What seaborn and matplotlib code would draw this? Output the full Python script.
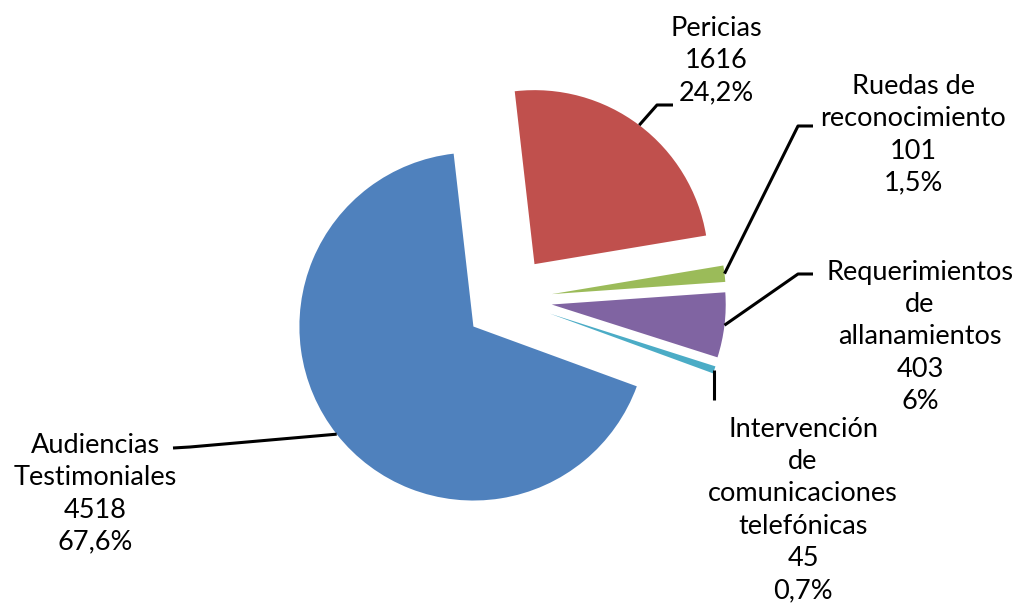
import numpy as np
import matplotlib
matplotlib.use('Agg')
import matplotlib.pyplot as plt
import seaborn as sns

# data
categorias = ['Audiencias\nTestimoniales', 'Pericias', 'Ruedas de\nreconocimiento',
              'Requerimientos\nde\nallanamientos',
              'Intervención\nde\ncomunicaciones\ntelefónicas']
valores = [4518, 1616, 101, 403, 45]
porcentajes = ['67,6%', '24,2%', '1,5%', '6%', '0,7%']
colores = ['#4F81BD', '#C0504D', '#9BBB59', '#8064A2', '#4BACC6']

sns.set_theme(style='white')
plt.rcParams['font.family'] = ['Lato', 'DejaVu Sans']

W, H = 1019, 610
cx, cy, R = 508, 299.3, 174.0   # pie centre / radius in pixels


def px(x, y):
    # pixel position -> data coords (pie radius = 1)
    return (x - cx) / R, (cy - y) / R


fig = plt.figure(figsize=(W / 100, H / 100), dpi=100)
ax = fig.add_axes([0, 0, 1, 1])

wedges, _ = ax.pie(valores, colors=colores, startangle=-20.1, counterclock=False,
                   explode=[0.253] * len(valores), radius=1,
                   wedgeprops=dict(linewidth=0))
ax.set_xlim(-cx / R, (W - cx) / R)
ax.set_ylim(-(H - cy) / R, cy / R)
ax.set_aspect('equal')
ax.axis('off')

# label layout: text centre, bend point, end point (pixels)
texto_pos = [(95, 494), (716, 61), (913, 135), (920, 337), (803, 510)]
guias = [[(190, 447), (173, 448)],
         [(657, 105), (673, 105)],
         [(798, 126), (813, 126)],
         [(798, 274), (813, 274)],
         [None, (0, 400)]]

for w, cat, v, p, tp, g in zip(wedges, categorias, valores, porcentajes, texto_pos, guias):
    # leader line starts at the middle of the wedge's outer edge
    ang = np.deg2rad((w.theta1 + w.theta2) / 2)
    ax0 = w.center[0] + w.r * np.cos(ang)
    ay0 = w.center[1] + w.r * np.sin(ang)
    xs, ys = [ax0], [ay0]
    if g[0] is None:
        xs.append(ax0)
        ys.append(px(0, g[1][1])[1])
    else:
        for q in g:
            qx, qy = px(*q)
            xs.append(qx)
            ys.append(qy)
    ax.plot(xs, ys, color='black', lw=2.2, solid_capstyle='butt')
    tx, ty = px(*tp)
    ax.text(tx, ty, f'{cat}\n{v}\n{p}', ha='center', va='center',
            multialignment='center', fontsize=19.5, linespacing=1.36, color='black')

fig.savefig('out.png', dpi=100)
